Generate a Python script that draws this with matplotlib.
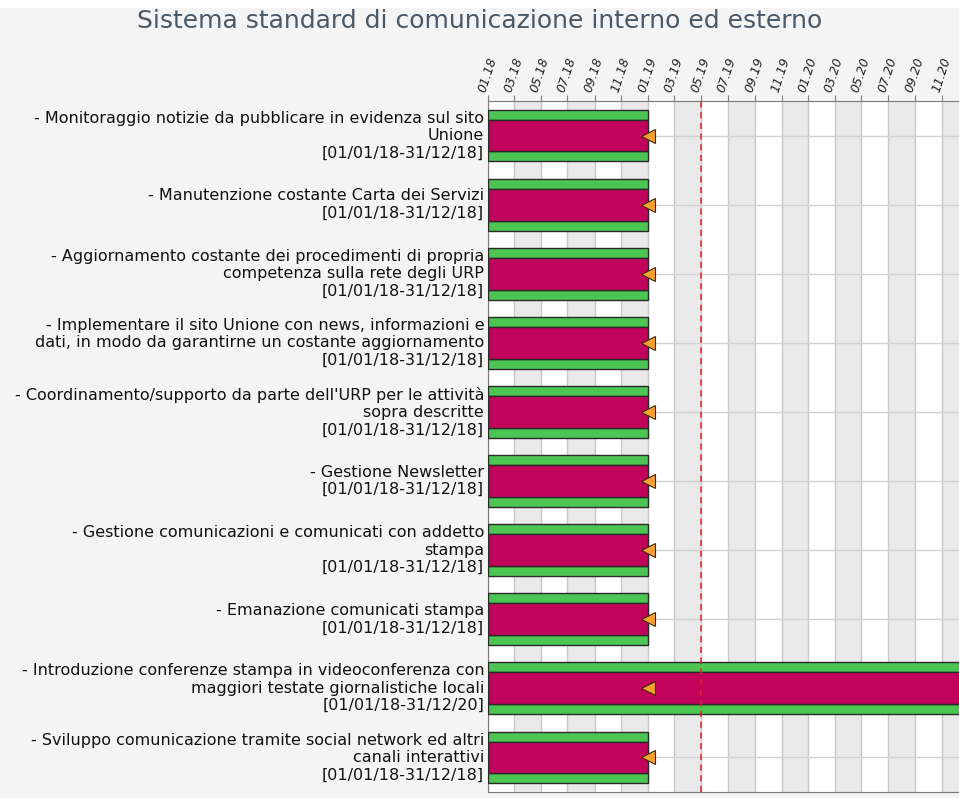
import datetime as dt
import matplotlib
matplotlib.use("Agg")
from matplotlib import pyplot as plt
import matplotlib.dates as mdates
from matplotlib.patches import Rectangle

# task descriptions (already wrapped as they are shown)
tasks = [
    "- Monitoraggio notizie da pubblicare in evidenza sul sito\nUnione",
    "- Manutenzione costante Carta dei Servizi",
    "- Aggiornamento costante dei procedimenti di propria\ncompetenza sulla rete degli URP",
    "- Implementare il sito Unione con news, informazioni e\ndati, in modo da garantirne un costante aggiornamento",
    "- Coordinamento/supporto da parte dell'URP per le attività\nsopra descritte",
    "- Gestione Newsletter",
    "- Gestione comunicazioni e comunicati con addetto\nstampa",
    "- Emanazione comunicati stampa",
    "- Introduzione conferenze stampa in videoconferenza con\nmaggiori testate giornalistiche locali",
    "- Sviluppo comunicazione tramite social network ed altri\ncanali interattivi",
]
starts = ["2018-01-01"] * 10
ends = ["2018-12-31"] * 8 + ["2020-12-31", "2018-12-31"]
progress = ["2019-01-01"] * 10
today = "2019-05-01"

title = "Sistema standard di comunicazione interno ed esterno"

GREEN = "#4cc552"
MAGENTA = "#c2035c"
ORANGE = "#f7a030"

d = lambda s: dt.datetime.strptime(s, "%Y-%m-%d")
start_d = [d(s) for s in starts]
end_d = [d(s) + dt.timedelta(days=1) for s in ends]

fig = plt.figure(figsize=(9.59, 7.98), dpi=100, facecolor="#f4f4f4")
fig.patches.append(Rectangle((0, 1 - 8 / 798), 1, 8 / 798, transform=fig.transFigure,
                             facecolor="white", edgecolor="none", zorder=-1))
ax = fig.add_axes([488 / 959, 1 - 792 / 798, 480 / 959, 691 / 798])
ax.set_facecolor("white")

x0 = mdates.date2num(d("2018-01-01"))
x1 = mdates.date2num(d("2020-12-30"))
ax.set_xlim(x0, x1)
ax.set_ylim(len(tasks), 0)

# alternating two-month bands and vertical grid
tick_dates = []
y, m = 2018, 1
while True:
    t = dt.datetime(y, m, 1)
    if mdates.date2num(t) > x1:
        break
    tick_dates.append(t)
    m += 2
    if m > 12:
        m -= 12
        y += 1
for i in range(len(tick_dates)):
    if i % 2 == 1:
        a = mdates.date2num(tick_dates[i])
        b = mdates.date2num(tick_dates[i + 1]) if i + 1 < len(tick_dates) else x1
        ax.axvspan(a, b, color="#e9e9e9", zorder=0, lw=0)
    ax.axvline(tick_dates[i], color="#c8c8c8", lw=1, zorder=1)

rows = list(range(len(tasks)))
for i in rows:
    ax.axhline(i + 0.5, color="#d2d2d2", lw=1, zorder=1)

widths = [e - s for s, e in zip(start_d, end_d)]
yc = [i + 0.5 for i in rows]
ax.barh([v - 0.302 for v in yc], widths, left=start_d, height=0.145,
        color=GREEN, edgecolor="#2a2a2a", lw=1, zorder=3)
ax.barh([v + 0.302 for v in yc], widths, left=start_d, height=0.145,
        color=GREEN, edgecolor="#2a2a2a", lw=1, zorder=3)
ax.barh(yc, widths, left=start_d, height=0.46,
        color=MAGENTA, edgecolor="#2a2a2a", lw=1, zorder=4)

ax.plot([d(p) for p in progress], yc, ls="none", marker="<", ms=10,
        mfc=ORANGE, mec="#3a2a10", mew=0.8, zorder=6, clip_on=False)

ax.axvline(d(today), color="#e02020", lw=1.1, ls=(0, (4, 3)), zorder=5)

# task labels on the left
for i, (name, s, e) in enumerate(zip(tasks, starts, ends)):
    lab = "{}\n[{}-{}]".format(name, d(s).strftime("%d/%m/%y"), d(e).strftime("%d/%m/%y"))
    ax.text(-0.008, i + 0.5, lab, transform=ax.get_yaxis_transform(),
            ha="right", va="center", multialignment="right",
            fontsize=11.5, color="#111111", linespacing=1.2)

ax.set_yticks([])
ax.xaxis.tick_top()
ax.set_xticks(tick_dates)
ax.xaxis.set_major_formatter(mdates.DateFormatter("%m.%y"))
ax.tick_params(axis="x", direction="out", length=4, color="#808080", pad=1,
               labelsize=9, labelcolor="#222222")
for lab in ax.get_xticklabels():
    lab.set_rotation(72)
    lab.set_ha("left")
    lab.set_va("bottom")
    lab.set_rotation_mode("anchor")
    lab.set_fontstyle("italic")

for side in ["top", "left", "bottom"]:
    ax.spines[side].set_color("#7a7a7a")
ax.spines["right"].set_visible(False)

fig.text(480 / 959, 1 - 21 / 798, title, ha="center", va="center",
         fontsize=18, color="#4a5866")

fig.savefig("out.png", dpi=100, facecolor=fig.get_facecolor())
